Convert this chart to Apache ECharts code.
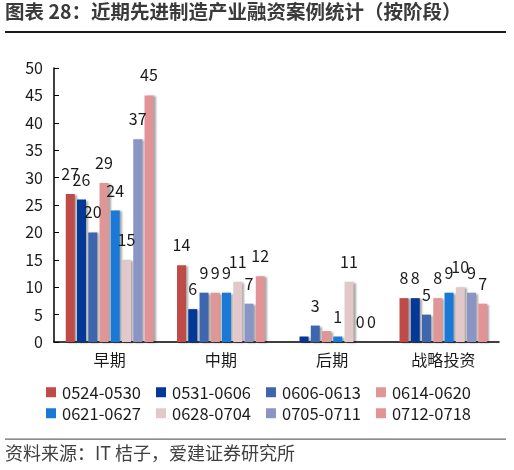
<!DOCTYPE html>
<html>
<head>
<meta charset="utf-8">
<script src="https://cdn.jsdelivr.net/npm/echarts@6/dist/echarts.min.js"></script>
<style>
html,body{margin:0;padding:0;background:#fff;}
#c{width:514px;height:470px;}
</style>
</head>
<body>
<div id="c"></div>
<script>
var categories = ['早期', '中期', '后期', '战略投资'];
var seriesNames = ['0524-0530', '0531-0606', '0606-0613', '0614-0620', '0621-0627', '0628-0704', '0705-0711', '0712-0718'];
var s0524 = [27, 14, 0, 8];
var s0531 = [26, 6, 1, 8];
var s0606 = [20, 9, 3, 5];
var s0614 = [29, 9, 2, 8];
var s0621 = [24, 9, 1, 9];
var s0628 = [15, 11, 11, 10];
var s0705 = [37, 7, 0, 9];
var s0712 = [45, 12, 0, 7];
var seriesValues = [s0524, s0531, s0606, s0614, s0621, s0628, s0705, s0712];
var yTicks = [0, 5, 10, 15, 20, 25, 30, 35, 40, 45, 50];
// labels not shown in the original (series index, category index)
var hiddenLabels = [[0, 2], [1, 2], [3, 2]];

var colors = ['#BE4B48', '#023896', '#3E66AF', '#DE9696', '#1A78D6', '#E2C8CA', '#8B95C5', '#E29395'];
var FONT = '"Noto Sans CJK SC", "Noto Sans", sans-serif';

function isHidden(si, ci) {
  for (var i = 0; i < hiddenLabels.length; i++) {
    if (hiddenLabels[i][0] === si && hiddenLabels[i][1] === ci) return true;
  }
  return false;
}

var series = seriesValues.map(function (vals, si) {
  return {
    name: seriesNames[si],
    type: 'bar',
    barWidth: 9,
    barGap: '25%',
    data: vals.map(function (v, ci) {
      return isHidden(si, ci) ? { value: v, label: { show: false } } : v;
    }),
    itemStyle: {
      color: colors[si],
      shadowColor: 'rgba(0,0,0,0.35)',
      shadowBlur: 2,
      shadowOffsetX: 2,
      shadowOffsetY: 1
    },
    label: {
      show: true,
      position: 'top',
      distance: 12,
      color: '#1a1a1a',
      fontSize: 16,
      fontFamily: FONT
    }
  };
});

function legendRow(names, top) {
  return {
    left: 41,
    top: top,
    itemWidth: 10,
    itemHeight: 10,
    itemGap: 15,
    icon: 'rect',
    textStyle: { color: '#1a1a1a', fontSize: 16.5, fontFamily: FONT, padding: [0, 0, 0, 1] },
    data: names
  };
}

var chart = echarts.init(document.getElementById('c'));
chart.setOption({
  animation: false,
  backgroundColor: '#fff',
  color: colors,
  grid: { left: 54, right: 15, top: 68, bottom: 128, containLabel: false },
  xAxis: {
    type: 'category',
    data: categories,
    axisLine: { lineStyle: { color: '#000', width: 1.5 } },
    axisTick: { show: false },
    axisLabel: { color: '#1a1a1a', fontSize: 16, fontFamily: FONT, margin: 10 }
  },
  yAxis: {
    type: 'value',
    min: yTicks[0],
    max: yTicks[yTicks.length - 1],
    interval: yTicks[1] - yTicks[0],
    splitLine: { show: false },
    axisLine: { show: true, lineStyle: { color: '#000', width: 1.5 } },
    axisTick: { show: true, inside: true, length: 5, lineStyle: { color: '#000' } },
    axisLabel: { color: '#1a1a1a', fontSize: 16, fontFamily: FONT, margin: 11 }
  },
  legend: [
    legendRow(seriesNames.slice(0, 4), 379),
    legendRow(seriesNames.slice(4, 8), 400)
  ],
  graphic: [
    { type: 'text', left: 5, top: 2, style: { text: '图表 28：近期先进制造产业融资案例统计（按阶段）', font: 'bold 19.5px ' + FONT, fill: '#3a3a3a' } },
    { type: 'rect', shape: { x: 5, y: 31, width: 501, height: 2 }, style: { fill: '#1a1a1a' } },
    { type: 'rect', shape: { x: 5, y: 438.5, width: 501, height: 1.2 }, style: { fill: '#666' } },
    { type: 'text', left: 5, top: 444, style: { text: '资料来源：IT 桔子，爱建证券研究所', font: '18px ' + FONT, fill: '#404040' } }
  ],
  series: series
});
</script>
</body>
</html>
